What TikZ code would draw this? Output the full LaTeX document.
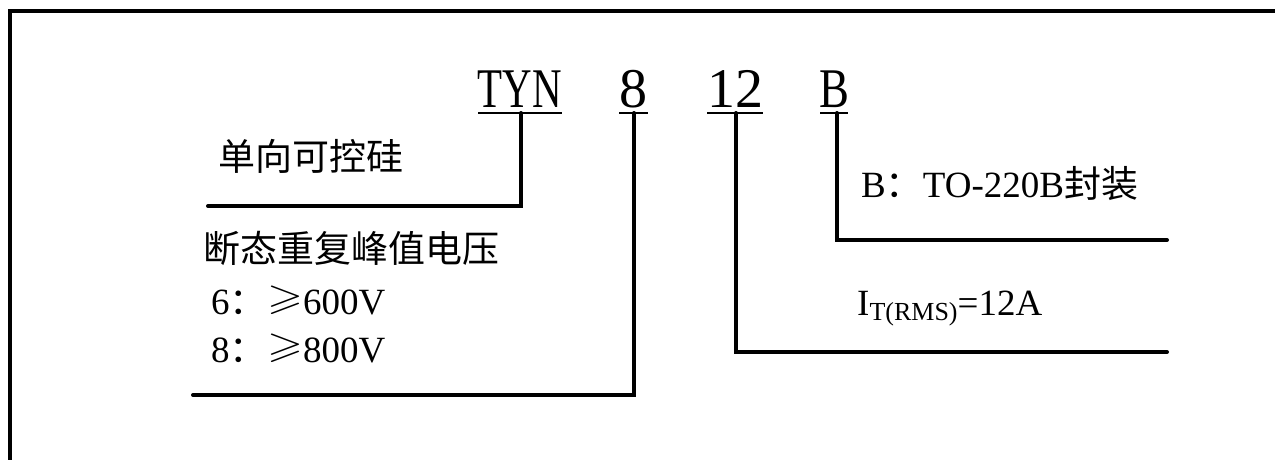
\documentclass[tikz,border=0pt]{standalone}
\usepackage{graphicx}
\usepackage{amssymb}
\usepackage{fontspec}
\setmainfont{Liberation Serif}
\newfontfamily\cjk{Noto Sans CJK SC}
\newcommand{\mygeq}{\hspace{0.5pt}\raisebox{4.5pt}{\scalebox{1.25}[1.0]{$\geqslant$}}}
\begin{document}
\begin{tikzpicture}[x=1pt,y=-1pt,
  lead/.style={line width=4pt, line cap=round},
  uline/.style={line width=2pt},
  txt/.style={inner sep=0pt, anchor=base west, font=\fontsize{37}{44}\selectfont},
  code/.style={inner sep=0pt, anchor=base, font=\fontsize{56}{60}\selectfont}]
\useasboundingbox (0,0) rectangle (1275,459);
% frame (only left and top edges are visible)
\draw[line width=4pt] (10,480) -- (10,11) -- (1300,11);

% type code
\node[code] (tyn) at (520,107) {\scalebox{0.73}[1]{TYN}};
\node[code] (n8)  at (633,107) {8};
\node[code] (n12) at (735,107) {12};
\node[code] (nb)  at (834,107) {\scalebox{0.8}[1]{B}};

\draw[uline] (478,113) -- (562,113);
\draw[uline] (619,113) -- (648,113);
\draw[uline] (707,113) -- (763,113);
\draw[uline] (820,113) -- (848,113);

% lead connectors
\coordinate (tyn-u) at (521,113);
\coordinate (tyn-e) at (208,206);
\coordinate (n8-u) at (634,113);
\coordinate (n8-e) at (193,395);
\coordinate (n12-u) at (736,113);
\coordinate (n12-e) at (1167,352);
\coordinate (nb-u) at (837,113);
\coordinate (nb-e) at (1167,240);
\draw[lead] (tyn-u) |- (tyn-e);
\draw[lead] (n8-u) |- (n8-e);
\draw[lead] (n12-u) |- (n12-e);
\draw[lead] (nb-u) |- (nb-e);

% labels
\node[txt] (l1) at (218,170) {\cjk 单向可控硅};
\node[txt] (l2) at (203,262) {\cjk 断态重复峰值电压};
\node[txt] (l3) at (211,314) {6{\cjk ：}\mygeq 600V};
\node[txt] (l4) at (211,362) {8{\cjk ：}\mygeq 800V};
\node[txt] (l5) at (861,197) {B{\cjk ：}TO-220B{\cjk 封装}};
\node[txt] (l6) at (857,315) {I\raisebox{-5pt}{\fontsize{26}{30}\selectfont T(RMS)}=12A};
\end{tikzpicture}
\end{document}
